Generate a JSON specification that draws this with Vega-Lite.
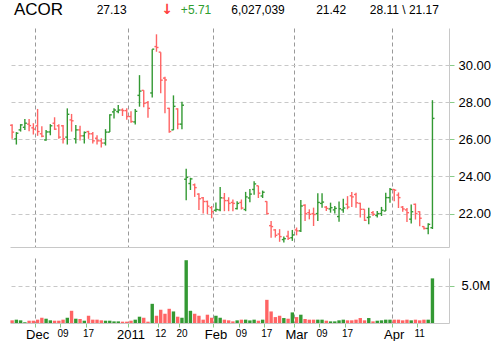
{
"$schema": "https://vega.github.io/schema/vega-lite/v6.json",
"padding": {"left": 9, "top": 0, "right": 0, "bottom": 0},
"config": {"view": {"stroke": null}, "font": "Liberation Sans", "axis": {"labelFont": "Liberation Sans"}},
"datasets": {
"h": [
{"k": "sym", "p": "v", "t": "ACOR"},
{"k": "last", "p": "v", "t": "27.13"},
{"k": "chg", "p": "a", "t": "↓"},
{"k": "chg", "p": "v", "t": "+5.71"},
{"k": "vol", "p": "v", "t": "6,027,039"},
{"k": "open", "p": "v", "t": "21.42"},
{"k": "hl", "p": "v", "t": "28.11 \\ 21.17"}
],
"p": [
{"d":"2010-11-22","o":26.76,"h":26.82,"l":26.03,"c":26.39,"v":360000},
{"d":"2010-11-23","o":26.03,"h":26.39,"l":25.72,"c":26.33,"v":450000},
{"d":"2010-11-24","o":26.51,"h":26.82,"l":26.42,"c":26.78,"v":360000},
{"d":"2010-11-26","o":26.65,"h":27.10,"l":26.51,"c":26.87,"v":100000},
{"d":"2010-11-29","o":26.82,"h":27.10,"l":26.44,"c":26.74,"v":310000},
{"d":"2010-11-30","o":26.62,"h":26.87,"l":26.26,"c":26.55,"v":310000},
{"d":"2010-12-01","o":26.73,"h":27.64,"l":26.19,"c":26.42,"v":450000},
{"d":"2010-12-02","o":26.30,"h":26.71,"l":26.12,"c":26.17,"v":710000},
{"d":"2010-12-03","o":25.97,"h":26.51,"l":25.92,"c":26.40,"v":580000},
{"d":"2010-12-06","o":26.40,"h":26.82,"l":26.22,"c":26.73,"v":360000},
{"d":"2010-12-07","o":26.87,"h":27.19,"l":26.51,"c":26.55,"v":310000},
{"d":"2010-12-08","o":26.73,"h":26.82,"l":26.03,"c":26.12,"v":310000},
{"d":"2010-12-09","o":26.73,"h":26.78,"l":25.78,"c":26.03,"v":450000},
{"d":"2010-12-10","o":26.12,"h":27.67,"l":25.72,"c":27.35,"v":710000},
{"d":"2010-12-13","o":27.05,"h":27.37,"l":26.42,"c":27.00,"v":1650000},
{"d":"2010-12-14","o":26.03,"h":26.78,"l":25.78,"c":26.51,"v":580000},
{"d":"2010-12-15","o":26.51,"h":26.73,"l":25.94,"c":26.19,"v":540000},
{"d":"2010-12-16","o":26.19,"h":26.42,"l":25.78,"c":26.37,"v":310000},
{"d":"2010-12-17","o":26.42,"h":26.46,"l":26.03,"c":26.30,"v":980000},
{"d":"2010-12-20","o":26.30,"h":26.40,"l":25.78,"c":25.92,"v":450000},
{"d":"2010-12-21","o":26.06,"h":26.22,"l":25.72,"c":25.92,"v":450000},
{"d":"2010-12-22","o":25.92,"h":26.06,"l":25.56,"c":25.80,"v":360000},
{"d":"2010-12-23","o":25.80,"h":26.55,"l":25.67,"c":26.39,"v":310000},
{"d":"2010-12-27","o":26.39,"h":27.35,"l":26.39,"c":27.32,"v":310000},
{"d":"2010-12-28","o":27.48,"h":27.67,"l":27.12,"c":27.58,"v":220000},
{"d":"2010-12-29","o":27.50,"h":27.85,"l":27.41,"c":27.58,"v":220000},
{"d":"2010-12-30","o":27.58,"h":27.67,"l":27.26,"c":27.55,"v":180000},
{"d":"2010-12-31","o":27.55,"h":27.67,"l":27.05,"c":27.23,"v":180000},
{"d":"2011-01-03","o":27.23,"h":27.51,"l":26.90,"c":26.96,"v":310000},
{"d":"2011-01-04","o":26.94,"h":27.64,"l":26.80,"c":27.51,"v":450000},
{"d":"2011-01-05","o":28.37,"h":29.46,"l":27.76,"c":28.60,"v":850000},
{"d":"2011-01-06","o":28.64,"h":28.64,"l":27.73,"c":27.94,"v":710000},
{"d":"2011-01-07","o":27.98,"h":28.07,"l":27.17,"c":27.67,"v":180000},
{"d":"2011-01-10","o":28.50,"h":30.86,"l":28.25,"c":30.86,"v":2590000},
{"d":"2011-01-11","o":31.00,"h":31.66,"l":30.72,"c":30.95,"v":980000},
{"d":"2011-01-12","o":30.70,"h":30.70,"l":28.48,"c":29.19,"v":1790000},
{"d":"2011-01-13","o":29.30,"h":29.37,"l":27.41,"c":29.20,"v":1250000},
{"d":"2011-01-14","o":27.67,"h":27.70,"l":26.35,"c":26.42,"v":1920000},
{"d":"2011-01-18","o":26.51,"h":28.37,"l":26.50,"c":27.78,"v":1560000},
{"d":"2011-01-19","o":27.64,"h":27.67,"l":26.55,"c":26.82,"v":850000},
{"d":"2011-01-20","o":26.82,"h":28.03,"l":26.55,"c":27.84,"v":710000},
{"d":"2011-01-21","o":23.85,"h":24.42,"l":22.72,"c":23.95,"v":8480000},
{"d":"2011-01-24","o":23.62,"h":23.93,"l":23.27,"c":23.87,"v":1650000},
{"d":"2011-01-25","o":23.55,"h":23.62,"l":22.90,"c":23.40,"v":1250000},
{"d":"2011-01-26","o":23.05,"h":23.10,"l":22.20,"c":22.80,"v":980000},
{"d":"2011-01-27","o":22.85,"h":22.90,"l":22.00,"c":22.65,"v":450000},
{"d":"2011-01-28","o":22.65,"h":22.70,"l":21.96,"c":22.40,"v":1120000},
{"d":"2011-01-31","o":22.32,"h":22.41,"l":21.75,"c":22.10,"v":710000},
{"d":"2011-02-01","o":22.18,"h":22.60,"l":22.10,"c":22.22,"v":980000},
{"d":"2011-02-02","o":22.20,"h":23.43,"l":22.13,"c":22.85,"v":710000},
{"d":"2011-02-03","o":22.84,"h":23.11,"l":22.13,"c":22.70,"v":450000},
{"d":"2011-02-04","o":22.70,"h":22.88,"l":22.13,"c":22.55,"v":360000},
{"d":"2011-02-07","o":22.60,"h":22.76,"l":22.13,"c":22.55,"v":220000},
{"d":"2011-02-08","o":22.27,"h":22.67,"l":22.22,"c":22.55,"v":360000},
{"d":"2011-02-09","o":22.60,"h":22.76,"l":22.22,"c":22.30,"v":450000},
{"d":"2011-02-10","o":22.22,"h":23.17,"l":22.13,"c":22.90,"v":450000},
{"d":"2011-02-11","o":22.84,"h":23.33,"l":22.61,"c":23.05,"v":350000},
{"d":"2011-02-14","o":23.30,"h":23.74,"l":23.02,"c":23.60,"v":450000},
{"d":"2011-02-15","o":23.50,"h":23.50,"l":22.84,"c":23.10,"v":310000},
{"d":"2011-02-16","o":22.95,"h":23.24,"l":22.84,"c":23.15,"v":450000},
{"d":"2011-02-17","o":22.65,"h":22.67,"l":21.95,"c":22.00,"v":3130000},
{"d":"2011-02-18","o":21.35,"h":21.60,"l":20.70,"c":21.30,"v":1560000},
{"d":"2011-02-22","o":21.12,"h":21.16,"l":20.71,"c":20.83,"v":800000},
{"d":"2011-02-23","o":20.90,"h":21.16,"l":20.48,"c":20.76,"v":980000},
{"d":"2011-02-24","o":20.60,"h":20.76,"l":20.44,"c":20.65,"v":670000},
{"d":"2011-02-25","o":20.78,"h":21.07,"l":20.58,"c":20.67,"v":580000},
{"d":"2011-02-28","o":20.70,"h":21.12,"l":20.53,"c":20.85,"v":1430000},
{"d":"2011-03-01","o":21.12,"h":21.25,"l":20.83,"c":21.07,"v":800000},
{"d":"2011-03-02","o":21.07,"h":22.73,"l":21.01,"c":22.41,"v":1120000},
{"d":"2011-03-03","o":22.45,"h":22.50,"l":21.60,"c":22.00,"v":540000},
{"d":"2011-03-04","o":22.05,"h":22.23,"l":21.69,"c":21.96,"v":450000},
{"d":"2011-03-07","o":22.00,"h":22.32,"l":21.33,"c":21.95,"v":450000},
{"d":"2011-03-08","o":22.00,"h":23.09,"l":21.60,"c":22.60,"v":450000},
{"d":"2011-03-09","o":22.55,"h":23.09,"l":22.32,"c":22.62,"v":450000},
{"d":"2011-03-10","o":22.35,"h":22.41,"l":22.14,"c":22.28,"v":310000},
{"d":"2011-03-11","o":22.25,"h":22.59,"l":22.05,"c":22.32,"v":220000},
{"d":"2011-03-14","o":22.20,"h":22.41,"l":22.01,"c":22.28,"v":220000},
{"d":"2011-03-15","o":21.84,"h":22.65,"l":21.56,"c":22.26,"v":360000},
{"d":"2011-03-16","o":22.20,"h":22.80,"l":22.05,"c":22.30,"v":450000},
{"d":"2011-03-17","o":22.50,"h":22.94,"l":22.23,"c":22.35,"v":360000},
{"d":"2011-03-18","o":22.96,"h":23.17,"l":22.35,"c":22.90,"v":360000},
{"d":"2011-03-21","o":23.03,"h":23.12,"l":22.32,"c":22.58,"v":450000},
{"d":"2011-03-22","o":22.55,"h":22.59,"l":21.79,"c":22.23,"v":670000},
{"d":"2011-03-23","o":22.23,"h":22.23,"l":21.60,"c":21.64,"v":360000},
{"d":"2011-03-24","o":21.79,"h":22.32,"l":21.43,"c":21.82,"v":670000},
{"d":"2011-03-25","o":22.05,"h":22.14,"l":21.87,"c":21.96,"v":220000},
{"d":"2011-03-28","o":21.90,"h":22.14,"l":21.79,"c":22.00,"v":310000},
{"d":"2011-03-29","o":22.00,"h":22.36,"l":21.87,"c":22.18,"v":360000},
{"d":"2011-03-30","o":22.14,"h":23.12,"l":22.14,"c":22.86,"v":450000},
{"d":"2011-03-31","o":22.86,"h":23.38,"l":22.58,"c":23.30,"v":450000},
{"d":"2011-04-01","o":23.30,"h":23.33,"l":22.67,"c":23.26,"v":450000},
{"d":"2011-04-04","o":23.00,"h":23.14,"l":22.30,"c":22.86,"v":450000},
{"d":"2011-04-05","o":22.35,"h":22.41,"l":22.10,"c":22.25,"v":360000},
{"d":"2011-04-06","o":22.20,"h":22.30,"l":21.55,"c":22.05,"v":450000},
{"d":"2011-04-07","o":21.70,"h":22.49,"l":21.47,"c":22.10,"v":360000},
{"d":"2011-04-08","o":22.50,"h":22.54,"l":21.68,"c":22.00,"v":450000},
{"d":"2011-04-11","o":22.10,"h":22.13,"l":21.32,"c":21.75,"v":360000},
{"d":"2011-04-12","o":21.30,"h":21.32,"l":21.14,"c":21.20,"v":450000},
{"d":"2011-04-13","o":21.20,"h":21.48,"l":20.89,"c":21.42,"v":450000},
{"d":"2011-04-14","o":21.24,"h":28.11,"l":21.17,"c":27.13,"v":6027039}
]
},
"spacing": 8,
"vconcat": [
{
"width": 439, "height": 20,
"data": {"name": "h"},
"encoding": {
"x": {"field": "k", "type": "nominal", "scale": {"type": "point", "domain": ["sym","last","chg","vol","open","hl"], "padding": 0.5, "align": 0.39}, "axis": null},
"text": {"field": "t", "type": "nominal"}
},
"layer": [
{"transform": [{"filter": "datum.k == 'sym'"}], "mark": {"type": "text", "fontSize": 17, "color": "#000000"}},
{"transform": [{"filter": "datum.k != 'sym' && datum.k != 'chg'"}], "mark": {"type": "text", "fontSize": 12, "color": "#000000"}},
{"transform": [{"filter": "datum.k == 'chg' && datum.p == 'v'"}], "mark": {"type": "text", "fontSize": 12, "color": "#2e9e2e", "align": "left", "dx": -4}},
{"transform": [{"filter": "datum.k == 'chg' && datum.p == 'a'"}], "mark": {"type": "text", "font": "DejaVu Sans", "fontSize": 14, "fontWeight": "bold", "color": "#ff4040", "align": "right", "dx": -12}}
]
},
{
"spacing": 11,
"vconcat": [
{
"width": 439, "height": 219,
"data": {"name": "p"},
"encoding": {
"color": {"condition": {"test": "datum.c >= datum.o", "value": "#339933"}, "value": "#ff6464"}
},
"layer": [
{
"mark": {"type": "rule", "strokeWidth": 1.4},
"encoding": {
"x": {"field": "d", "type": "ordinal", "bandPosition": 0.5,
"scale": {"type": "band", "domain": {"unionWith": ["2011-04-15","2011-04-18","2011-04-19"]}, "paddingInner": 0, "paddingOuter": 0.2, "align": 0},
"axis": {"title": null, "values": ["2010-12-01","2011-01-03","2011-02-01","2011-03-01","2011-04-01"], "labels": false, "ticks": false, "domain": true, "domainColor": "#c8c8c8", "grid": true, "gridColor": "#999999", "gridDash": [4,3], "bandPosition": 0}},
"y": {"field": "l", "type": "quantitative", "scale": {"domain": [20.2, 32], "nice": false, "zero": false},
"axis": {"orient": "right", "title": null, "values": [22,24,26,28,30], "format": ".2f", "grid": true, "gridColor": "#c8c8c8", "gridDash": [4,3], "domainColor": "#c8c8c8", "tickColor": "#88cc88", "tickSize": 5, "labelPadding": 4, "labelFontSize": 13, "labelColor": "#000000"}},
"y2": {"field": "h"}
}
},
{
"mark": {"type": "rule", "strokeWidth": 1.4},
"encoding": {
"x": {"field": "d", "type": "ordinal", "bandPosition": 0.02},
"x2": {"field": "d", "bandPosition": 0.5},
"y": {"field": "o", "type": "quantitative"}
}
},
{
"mark": {"type": "rule", "strokeWidth": 1.4},
"encoding": {
"x": {"field": "d", "type": "ordinal", "bandPosition": 0.5},
"x2": {"field": "d", "bandPosition": 0.98},
"y": {"field": "c", "type": "quantitative"}
}
}
]
},
{
"width": 439, "height": 65,
"data": {"name": "p"},
"mark": {"type": "bar", "width": {"band": 0.8}},
"encoding": {
"x": {"field": "d", "type": "ordinal",
"scale": {"type": "band", "domain": {"unionWith": ["2011-04-15","2011-04-18","2011-04-19"]}, "paddingInner": 0, "paddingOuter": 0.2, "align": 0},
"axis": {"title": null,
"values": ["2010-12-01","2010-12-09","2010-12-17","2011-01-03","2011-01-12","2011-01-20","2011-02-01","2011-02-09","2011-02-17","2011-03-01","2011-03-09","2011-03-17","2011-04-01","2011-04-11"],
"labelExpr": "datum.value == '2011-01-03' ? '2011' : slice(datum.value, 8) == '01' ? ['Jan','Feb','Mar','Apr','May','Jun','Jul','Aug','Sep','Oct','Nov','Dec'][parseInt(slice(datum.value, 5, 7)) - 1] : slice(datum.value, 8)",
"labelAngle": 0, "labelOverlap": false, "labelFlush": false, "labelPadding": 1, "labelColor": "#000000",
"labelFontSize": {"condition": {"test": "datum.value == '2011-01-03' || slice(datum.value, 8) == '01'", "value": 13}, "value": 10},
"bandPosition": 0,
"tickColor": "#88cc88", "tickSize": 4,
"domainColor": "#c8c8c8",
"grid": true, "gridColor": "#999999", "gridDash": [4,3],
"gridOpacity": {"condition": {"test": "datum.value == '2011-01-03' || slice(datum.value, 8) == '01'", "value": 1}, "value": 0}}},
"y": {"field": "v", "type": "quantitative", "scale": {"domain": [0, 8780000], "nice": false},
"axis": {"orient": "right", "title": null, "values": [5000000], "labelExpr": "format(datum.value / 1000000, '.1f') + 'M'", "grid": true, "gridColor": "#c8c8c8", "gridDash": [4,3], "domainColor": "#c8c8c8", "tickColor": "#88cc88", "tickSize": 5, "labelPadding": 7, "labelFontSize": 13, "labelColor": "#000000"}},
"color": {"condition": {"test": "datum.c >= datum.o", "value": "#339933"}, "value": "#ff6464"}
}
}
]
}
]
}
